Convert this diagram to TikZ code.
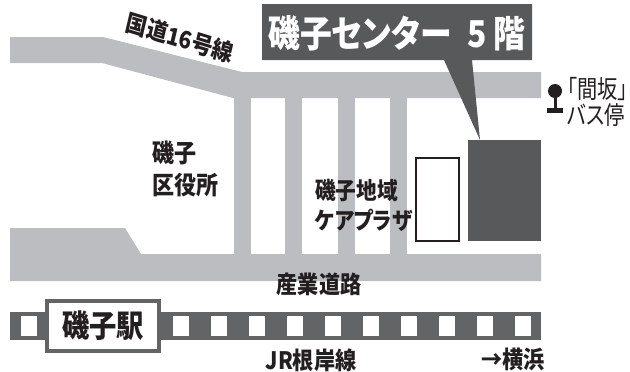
\documentclass[tikz,border=0pt]{standalone}
\usepackage{fontspec}
\setmainfont{Noto Sans CJK JP}[RawFeature=+palt]
\definecolor{roadgrey}{HTML}{BBBDC0}
\definecolor{darkgrey}{HTML}{58595B}
\definecolor{railgrey}{HTML}{636466}
\definecolor{inkblack}{HTML}{231F20}
\tikzset{
  road/.style={fill=roadgrey,draw=none},
  dark/.style={fill=darkgrey,draw=none},
  lbl/.style={inner sep=0pt,text=inkblack,font=\fontsize{24}{24}\selectfont\bfseries,xscale=.88,transform shape},
  stack/.style={lbl,align=left,anchor=west},
}
\begin{document}
\begin{tikzpicture}[x=1pt,y=-1pt]
\useasboundingbox (0,0) rectangle (630,372);
\fill[white] (0,0) rectangle (630,372);
% roads
\fill[road] (10,37) -- (103,37) -- (242,72) -- (541,72) -- (541,98) -- (233,98) -- (102,63) -- (10,63) -- cycle;
\foreach \xa/\xb in {234/251,285/302,338/355,390/407}
  \fill[road] (\xa,97) rectangle (\xb,255);
\fill[road] (10,228) -- (125,228) -- (141,254) -- (541,254) -- (541,281) -- (10,281) -- cycle;
% railway
\fill[railgrey] (10,312) rectangle (541,340);
\foreach \xa in {21,173,211,249,287,325,363,401,439,477,515}
  \fill[white] (\xa,316) rectangle ++(16,20);
% buildings
\fill[dark] (468,140) rectangle (541,241);
\draw[inkblack,line width=2pt,fill=white] (416,158) rectangle (459,241);
% callout
\fill[dark] (262,4) -- (532,4) -- (532,60) -- (472,60) -- (480,140) -- (444,60) -- (262,60) -- cycle;
\node[inner sep=0pt,text=white,font=\fontsize{37}{37}\selectfont\bfseries,xscale=.86,transform shape] (title) at (397,33) {磯子センター\hspace{.5em}5 階};
% station
\node[draw=railgrey,line width=3.5pt,fill=white,minimum width=112pt,minimum height=50pt,inner sep=0pt] (station) at (103,326) {};
\node[lbl,font=\fontsize{31}{31}\selectfont\bfseries] (stationtext) at (103,326) {磯子駅};
% labels
\node[lbl,rotate=-15] (route) at (180,38) {国道16号線};
\node[stack,font=\fontsize{25}{32}\selectfont\bfseries] (ward) at (152,169) {磯子\\区役所};
\node[stack,font=\fontsize{23.5}{30}\selectfont\bfseries] (plaza) at (315,205) {磯子地域\\ケアプラザ};
\node[lbl] (industrial) at (319,284) {産業道路};
\node[lbl] (jr) at (311,360) {JR根岸線};
\node[lbl] (yokohama) at (513,359) {→横浜};
\node[stack,font=\fontsize{25}{26}\selectfont,xscale=.92] (bus) at (567,102) {「間坂」\\バス停};
% bus stop icon
\fill[inkblack] (555,91) circle (7);
\fill[inkblack] (553.5,95) rectangle (556.5,108);
\fill[inkblack] (547,108) rectangle (563,113);
\end{tikzpicture}
\end{document}
